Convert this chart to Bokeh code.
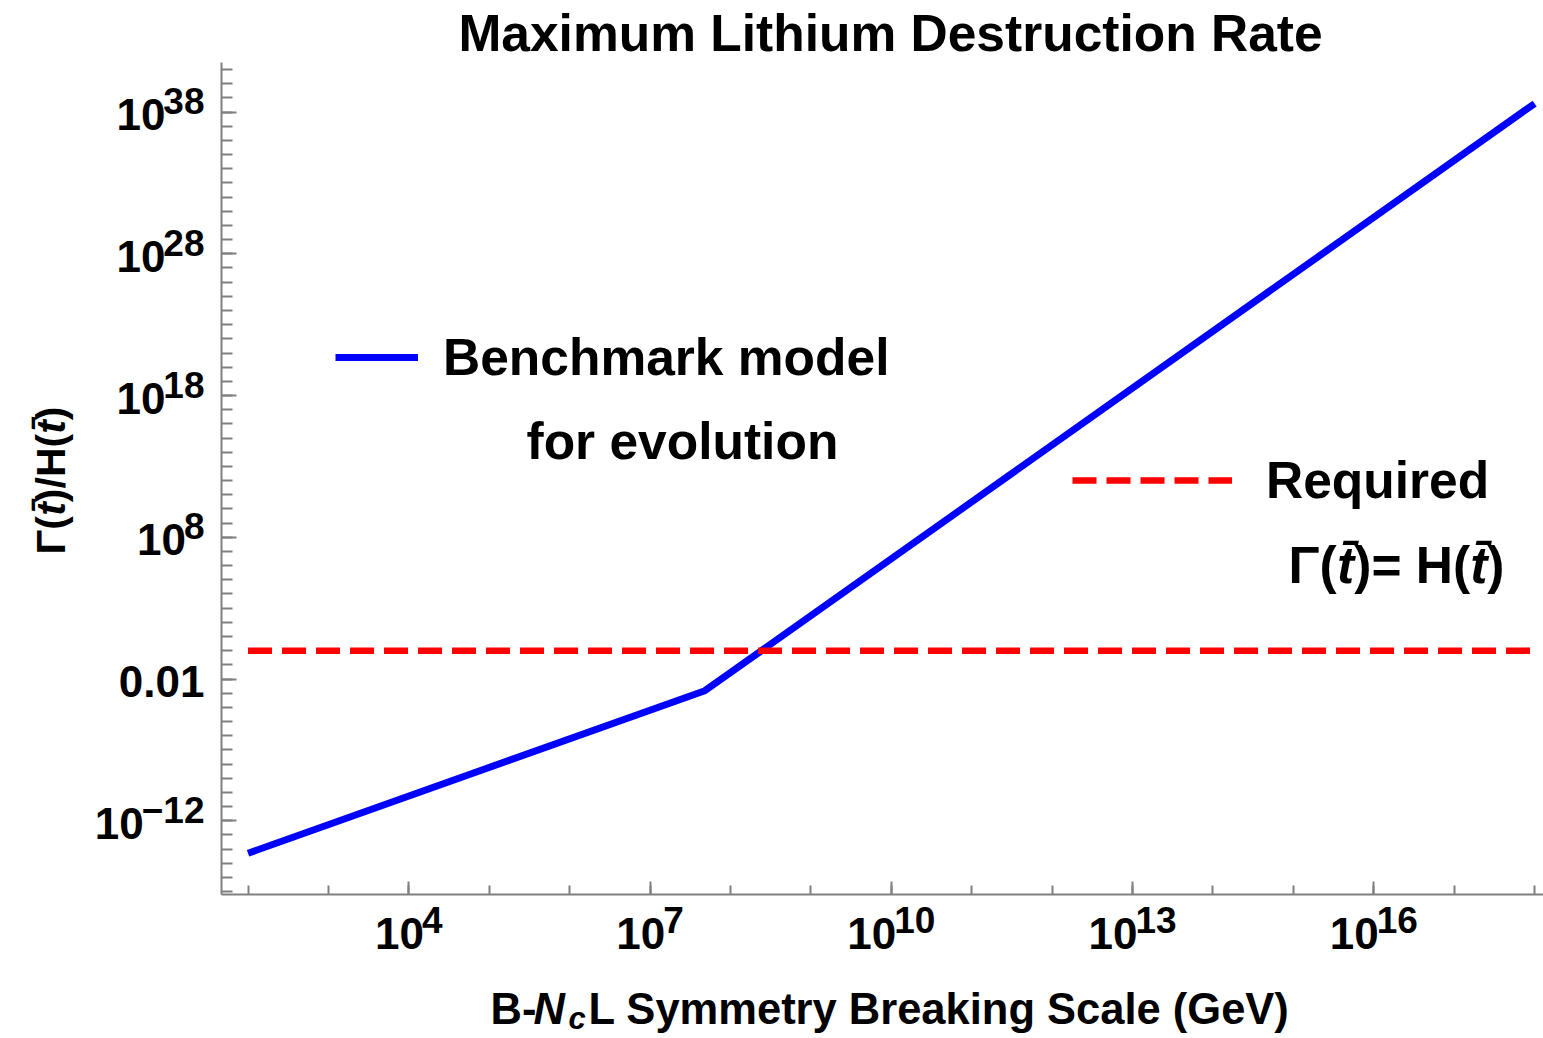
from math import pi

from bokeh.plotting import figure
from bokeh.models import (Label, LabelSet, ColumnDataSource, FixedTicker, Range1d,
                          Legend, LegendItem, CustomJSTickFormatter, LogAxis)
from bokeh.core.properties import value
from bokeh.embed import file_html
from bokeh.resources import INLINE

# ---------------- data ----------------
scale_gev = [1.0e2, 4.8e7, 1.0e18]            # B - Nc L breaking scale (GeV)
gamma_over_h = [5.1e-15, 1.5e-3, 4.0e38]       # benchmark model Gamma/H
required_scale = [1.0e2, 1.0e18]
required_ratio = [1.0, 1.0]                    # Gamma = H

x_major_ticks = [1e4, 1e7, 1e10, 1e13, 1e16]
x_tick_base = ["10", "10", "10", "10", "10"]
x_tick_exp = ["4", "7", "10", "13", "16"]
x_minor_ticks = [10.0 ** k for k in range(2, 19)]

y_major_ticks = [1e-12, 1e-2, 1e8, 1e18, 1e28, 1e38]
y_tick_base = ["10", "0.01", "10", "10", "10", "10"]
y_tick_exp = ["\u221212", "", "8", "18", "28", "38"]
y_minor_ticks = [10.0 ** k for k in range(-17, 42)]

title_text = "Maximum Lithium Destruction Rate"
legend_blue = ["Benchmark model", "for evolution"]
legend_red = "Required"

# ---------------- layout / style ----------------
W, H = 1543, 1038
# the plotting frame covers the whole canvas; axes are fixed inside it
X_RANGE = (10 ** -1.078, 10 ** 18.11)
Y_RANGE = (10 ** -27.36, 10 ** 45.87)
X_AXIS_BOUNDS = (10 ** 1.675, 10 ** 18.11)
Y_AXIS_BOUNDS = (10 ** -17.2, 10 ** 41.5)
FONT = "Liberation Sans"
GRAY = "#808080"
FS_TICK, FS_EXP = 44, 37
FS_LEG = 51.5

ADV = {"\u2212": 0.584, ".": 0.278, "\u0393": 0.611, "(": 0.333, ")": 0.333,
       "/": 0.278, "H": 0.722, "t": 0.333, "\u0304": 0.0, "=": 0.584, " ": 0.278}


def adv(s, fs):
    return sum(ADV.get(c, 0.556) for c in s) * fs


p = figure(width=W, height=H, x_axis_type="log", y_axis_type="log",
           x_axis_location=None, y_axis_location=None,
           x_range=Range1d(*X_RANGE), y_range=Range1d(*Y_RANGE),
           output_backend="svg", toolbar_location=None,
           min_border_left=0, min_border_right=0, min_border_top=0,
           min_border_bottom=0)
p.outline_line_color = None
p.grid.visible = False
p.background_fill_color = "white"
p.border_fill_color = "white"

xaxis = LogAxis(fixed_location=Y_AXIS_BOUNDS[0], bounds=X_AXIS_BOUNDS)
yaxis = LogAxis(fixed_location=X_AXIS_BOUNDS[0], bounds=Y_AXIS_BOUNDS)
for ax, tin, tmin, majors, minors in ((xaxis, 13, 9, x_major_ticks, x_minor_ticks),
                                      (yaxis, 15, 11, y_major_ticks, y_minor_ticks)):
    ax.ticker = FixedTicker(ticks=majors, minor_ticks=minors)
    ax.formatter = CustomJSTickFormatter(code="return ''")
    ax.axis_line_color = GRAY
    ax.axis_line_width = 2
    ax.major_tick_line_color = GRAY
    ax.major_tick_line_width = 2
    ax.minor_tick_line_color = GRAY
    ax.minor_tick_line_width = 2
    ax.major_tick_in = tin
    ax.major_tick_out = 0
    ax.minor_tick_in = tmin
    ax.minor_tick_out = 0
p.add_layout(xaxis, "below")
p.add_layout(yaxis, "left")

bench = p.line(scale_gev, gamma_over_h, line_color="#0000ff", line_width=7)
req = p.line(required_scale, required_ratio, line_color="#ff0000", line_width=6.5,
             line_dash="24 10")


def canvas_label(text, cx, cy, size, italic=False, align="left", angle=0.0):
    """Text placed at canvas pixel (cx, cy); cy is the vertical middle of the text."""
    return Label(x=X_RANGE[0], y=Y_RANGE[0], x_offset=cx, y_offset=H - cy,
                 text=text, text_font=FONT, text_font_size=f"{size}px",
                 text_font_style="bold italic" if italic else "bold",
                 text_color="black", text_align=align, text_baseline="middle",
                 angle=angle)


AXIS_X = 221          # canvas x of the vertical axis line

# ---- y tick labels ----
y_exp_w = [adv(e, FS_EXP) for e in y_tick_exp]
y_src = ColumnDataSource(dict(
    y=y_major_ticks, base=y_tick_base, exp=y_tick_exp,
    xo=[AXIS_X - 17 - w + (2 if w else 0) for w in y_exp_w]))
p.add_layout(LabelSet(x=X_RANGE[0], y="y", text="base", x_offset="xo", y_offset=-2.5,
                      source=y_src, text_align="right", text_baseline="middle",
                      text_font=value(FONT), text_font_size=f"{FS_TICK}px",
                      text_font_style="bold", text_color="black"))
p.add_layout(LabelSet(x=X_RANGE[0], y="y", text="exp", x_offset=AXIS_X - 17, y_offset=11,
                      source=y_src, text_align="right", text_baseline="middle",
                      text_font=value(FONT), text_font_size=f"{FS_EXP}px",
                      text_font_style="bold", text_color="black"))

# ---- x tick labels ----
w10 = adv("10", FS_TICK)
x_tot = [w10 + adv(e, FS_EXP) - 2 for e in x_tick_exp]
x_src = ColumnDataSource(dict(
    x=x_major_ticks, base=x_tick_base, exp=x_tick_exp,
    xo_base=[-t / 2 for t in x_tot], xo_exp=[-t / 2 + w10 - 2 for t in x_tot]))
p.add_layout(LabelSet(x="x", y=Y_RANGE[0], text="base", x_offset="xo_base", y_offset=H - 933,
                      source=x_src, text_align="left", text_baseline="middle",
                      text_font=value(FONT), text_font_size=f"{FS_TICK}px",
                      text_font_style="bold", text_color="black"))
p.add_layout(LabelSet(x="x", y=Y_RANGE[0], text="exp", x_offset="xo_exp", y_offset=H - 919,
                      source=x_src, text_align="left", text_baseline="middle",
                      text_font=value(FONT), text_font_size=f"{FS_EXP}px",
                      text_font_style="bold", text_color="black"))

# ---- legends ----
common = dict(orientation="vertical", padding=0, margin=0, spacing=0,
              border_line_color=None, background_fill_alpha=0,
              label_text_font=FONT, label_text_font_size=f"{FS_LEG}px",
              label_text_font_style="bold", label_text_baseline="middle",
              label_text_color="black", glyph_height=60, label_height=60)
leg_b = Legend(items=[LegendItem(label=value(legend_blue[0]), renderers=[bench])],
               location=(335, H - 357 - 30), glyph_width=83, label_standoff=25,
               **common)
leg_r = Legend(items=[LegendItem(label=value(legend_red), renderers=[req])],
               location=(1072, H - 480 - 30), glyph_width=160, label_standoff=34,
               **common)
p.add_layout(leg_b)
p.add_layout(leg_r)

p.add_layout(canvas_label(legend_blue[1], 526, 440, FS_LEG))

# formula under "Required":  Γ(t̄)= H(t̄)
cx = 1288
for txt, it in (("\u0393(", False), ("t\u0304", True), (")= H(", False),
                ("t\u0304", True), (")", False)):
    p.add_layout(canvas_label(txt, cx, 564, FS_LEG, italic=it))
    cx += adv(txt, FS_LEG)

# ---- title ----
p.add_layout(canvas_label(title_text, 890, 32, 51.5, align="center"))

# ---- x axis title:  B-N_c L Symmetry Breaking Scale (GeV) ----
p.add_layout(canvas_label("B-", 490, 1008, 43.5))
p.add_layout(canvas_label("N", 533, 1008, 43.5, italic=True))
p.add_layout(canvas_label("c", 568, 1018, 31, italic=True))
p.add_layout(canvas_label("L Symmetry Breaking Scale (GeV)", 588, 1008, 43.5))

# ---- y axis title (rotated):  Γ(t̄)/H(t̄) ----
pieces = (("\u0393(", False), ("t\u0304", True), (")/H(", False),
          ("t\u0304", True), (")", False))
total = sum(adv(t, 41) for t, _ in pieces)
cy = 480 + total / 2
for txt, it in pieces:
    p.add_layout(canvas_label(txt, 50, cy, 41, italic=it, angle=pi / 2))
    cy -= adv(txt, 41)

open("out.html", "w").write(file_html(p, INLINE))
